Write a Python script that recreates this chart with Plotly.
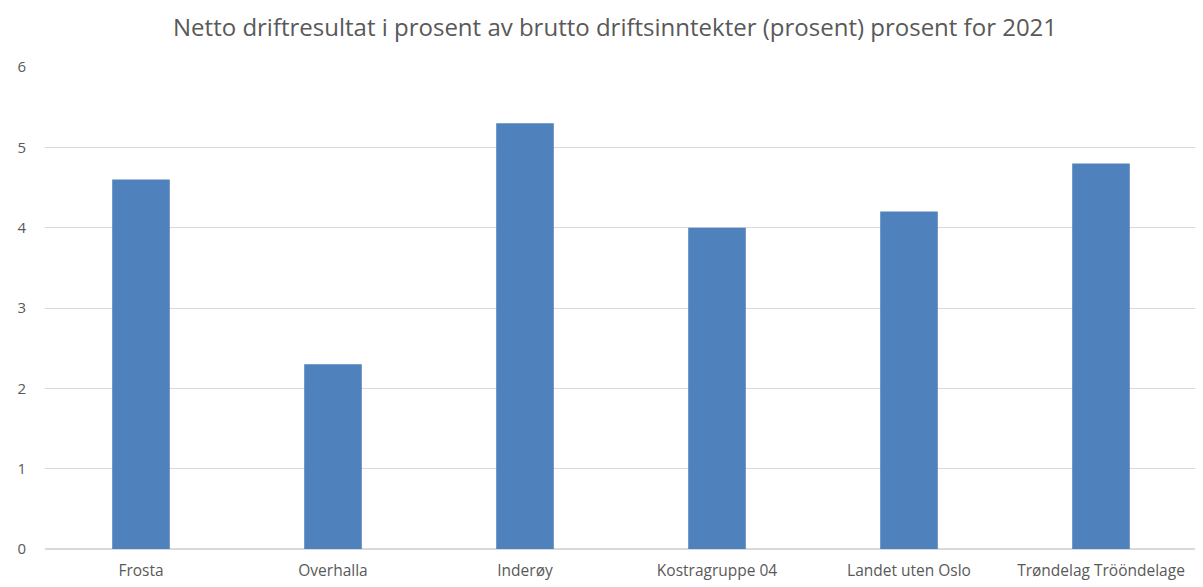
import plotly.graph_objects as go

# Kategorier og verdier
kommuner = ["Frosta", "Overhalla", "Inderøy", "Kostragruppe 04", "Landet uten Oslo", "Trøndelag Trööndelage"]
verdier = [4.6, 2.3, 5.3, 4.0, 4.2, 4.8]
y_ticks = [0, 1, 2, 3, 4, 5, 6]

fig = go.Figure(go.Bar(x=kommuner, y=verdier, marker_color="#4F81BD", marker_line_width=0))

# siden har 8px body-marg, så figuren er litt mindre enn vinduet
fig.update_layout(
    title=dict(text="Netto driftresultat i prosent av brutto driftsinntekter (prosent) prosent for 2021",
               x=0.508, xanchor="center", y=0.967, yanchor="middle",
               font=dict(size=24, color="#595959")),
    font=dict(family="Open Sans, Lato, sans-serif", size=15.5, color="#595959"),
    width=1195, height=579,
    margin=dict(l=37, r=6, t=59, b=34),
    plot_bgcolor="white", paper_bgcolor="white",
    bargap=0.7,
    showlegend=False,
)
fig.update_yaxes(range=[0, 6], tickvals=y_ticks, gridcolor="#D9D9D9", gridwidth=1,
                 zeroline=True, zerolinecolor="#D9D9D9", ticklabelstandoff=18,
                 tickfont=dict(size=15))
fig.update_xaxes(showline=False, ticks="", ticklabelstandoff=10, tickfont=dict(size=15.5))

fig.write_html("out.html")
